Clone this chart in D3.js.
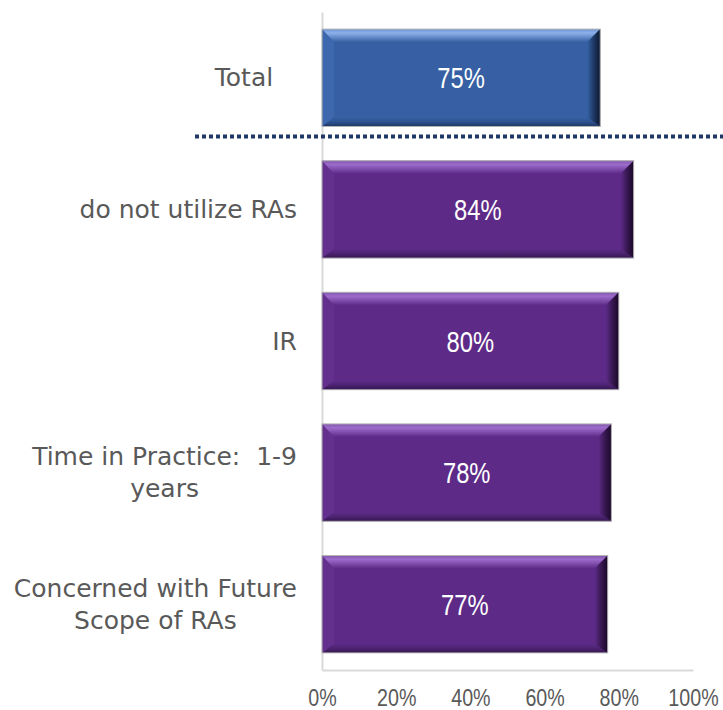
<!DOCTYPE html>
<html>
<head>
<meta charset="utf-8">
<script src="https://cdn.jsdelivr.net/npm/d3@7"></script>
<style>
  html, body { margin: 0; padding: 0; background: #ffffff; }
  svg { display: block; }
  .lbl { white-space: pre; }
</style>
</head>
<body>
<svg id="chart" width="723" height="710"></svg>
<script>
// ---- data ----
const categories = ["Total", "do not utilize RAs", "IR", "Time in Practice:  1-9 years", "Concerned with Future Scope of RAs"];
const labelLines = [["Total\u00a0\u00a0\u00a0"], ["do not utilize RAs"], ["IR"], ["Time in Practice:  1-9", "years"], ["Concerned with Future", "Scope of RAs"]];
const values = [0.75, 0.84, 0.80, 0.78, 0.77];
const groups = ["total", "sub", "sub", "sub", "sub"];
const tickValues = [0, 0.2, 0.4, 0.6, 0.8, 1.0];
const tickLabels = ["0%", "20%", "40%", "60%", "80%", "100%"];

const palette = {
  total: { base: "#3660A3", top0: "#6f94d4", top1: "#8cb0ea", left: "#3e68ad", right: "#0b1730", bottom0: "#2d5290", bottom1: "#1d3763" },
  sub:   { base: "#5D2B87", top0: "#8257ad", top1: "#9d6bcb", left: "#63308e", right: "#190827", bottom0: "#4c2371", bottom1: "#33164f" }
};

const numFont = "'Liberation Sans', Arial, sans-serif";
const narrow = 0.82;

const svg = d3.select("#chart");
const x = d3.scaleLinear().domain([0, 1]).range([322, 693]);
const y = d3.scaleBand().domain(categories).range([12, 670]).paddingInner(0.26).paddingOuter(0.13);

// gradients
const defs = svg.append("defs");
Object.entries(palette).forEach(([k, c]) => {
  const gTop = defs.append("linearGradient").attr("id", "top-" + k).attr("x1", 0).attr("y1", 0).attr("x2", 0).attr("y2", 1);
  gTop.append("stop").attr("offset", 0).attr("stop-color", c.top0);
  gTop.append("stop").attr("offset", 0.3).attr("stop-color", c.top1);
  gTop.append("stop").attr("offset", 1).attr("stop-color", c.base);
  const gRight = defs.append("linearGradient").attr("id", "right-" + k).attr("x1", 0).attr("y1", 0).attr("x2", 1).attr("y2", 0);
  gRight.append("stop").attr("offset", 0).attr("stop-color", c.base);
  gRight.append("stop").attr("offset", 0.5).attr("stop-color", d3.interpolateRgb(c.base, c.right)(0.55));
  gRight.append("stop").attr("offset", 1).attr("stop-color", c.right);
  const gBottom = defs.append("linearGradient").attr("id", "bottom-" + k).attr("x1", 0).attr("y1", 0).attr("x2", 0).attr("y2", 1);
  gBottom.append("stop").attr("offset", 0).attr("stop-color", c.base);
  gBottom.append("stop").attr("offset", 0.5).attr("stop-color", c.bottom0);
  gBottom.append("stop").attr("offset", 1).attr("stop-color", c.bottom1);
});

// axes
const yAxis = svg.append("g").attr("transform", `translate(${x(0)},0)`)
  .call(d3.axisLeft(y).tickSize(0).tickSizeOuter(0).tickFormat(""));
yAxis.select(".domain").attr("stroke", "#d9d9d9").attr("stroke-width", 2);

const xAxis = svg.append("g").attr("transform", `translate(0,${y.range()[1]})`)
  .call(d3.axisBottom(x).tickValues(tickValues).tickSize(0).tickSizeOuter(0).tickPadding(0)
    .tickFormat((d, i) => tickLabels[i]));
xAxis.select(".domain").attr("stroke", "#d9d9d9").attr("stroke-width", 2);
xAxis.selectAll(".tick text")
  .attr("fill", "#595959")
  .attr("font-family", numFont)
  .attr("font-size", 24)
  .attr("y", 0)
  .attr("dy", 0)
  .attr("transform", `translate(0,36) scale(${narrow},1)`);

// bars with bevel
const bT = 13, bR = 13, bB = 9, bL = 12;
const bars = svg.append("g").selectAll("g").data(categories).join("g");
bars.each(function (cat, i) {
  const g = d3.select(this);
  const k = groups[i];
  const c = palette[k];
  const x0 = x(0), x1 = x(values[i]);
  const y0 = y(cat), y1 = y(cat) + y.bandwidth();
  g.append("rect").attr("x", x0).attr("y", y0).attr("width", x1 - x0).attr("height", y1 - y0)
    .attr("fill", c.base);
  g.append("polygon").attr("points", [[x0, y0], [x0 + bL, y0 + bT], [x0 + bL, y1 - bB], [x0, y1]].join(" "))
    .attr("fill", c.left);
  g.append("polygon").attr("points", [[x0, y0], [x1, y0], [x1 - bR, y0 + bT], [x0 + bL, y0 + bT]].join(" "))
    .attr("fill", `url(#top-${k})`);
  g.append("polygon").attr("points", [[x0, y1], [x0 + bL, y1 - bB], [x1 - bR, y1 - bB], [x1, y1]].join(" "))
    .attr("fill", `url(#bottom-${k})`);
  g.append("polygon").attr("points", [[x1, y0], [x1, y1], [x1 - bR, y1 - bB], [x1 - bR, y0 + bT]].join(" "))
    .attr("fill", `url(#right-${k})`);
  g.append("rect").attr("x", x0).attr("y", y0).attr("width", x1 - x0).attr("height", y1 - y0)
    .attr("fill", "none").attr("stroke", "#b4b4b4").attr("stroke-width", 1);
  g.append("text")
    .attr("transform", `translate(${(x0 + x1) / 2},${y0 + y.bandwidth() / 2 + 10.5}) scale(${narrow},1)`)
    .attr("text-anchor", "middle")
    .attr("fill", "#ffffff")
    .attr("font-family", numFont)
    .attr("font-size", 29)
    .text(Math.round(values[i] * 100) + "%");
});

// category labels (wrapped, centered lines, block right-aligned)
const labelRight = x(0) - 25;
const lineH = 32;
categories.forEach((cat, i) => {
  const lines = labelLines[i];
  const cy = y(cat) + y.bandwidth() / 2;
  const t = svg.append("text")
    .attr("class", "lbl")
    .attr("fill", "#595959")
    .attr("font-family", "'DejaVu Sans', Verdana, sans-serif")
    .attr("font-size", 25)
    .attr("text-anchor", "middle");
  const spans = lines.map((ln, j) => t.append("tspan").text(ln)
    .attr("y", cy + 8.5 - (lineH / 2) * (lines.length - 1) + j * lineH));
  const maxW = d3.max(spans, s => s.node().getComputedTextLength());
  const cx = labelRight - maxW / 2;
  spans.forEach(s => s.attr("x", cx));
});

// dotted separator between Total and the subgroups
svg.append("line")
  .attr("x1", 195).attr("x2", 723)
  .attr("y1", y(categories[0]) + y.bandwidth() + 10)
  .attr("y2", y(categories[0]) + y.bandwidth() + 10)
  .attr("stroke", "#1F3864")
  .attr("stroke-width", 4)
  .attr("stroke-dasharray", "4,3");
</script>
</body>
</html>
